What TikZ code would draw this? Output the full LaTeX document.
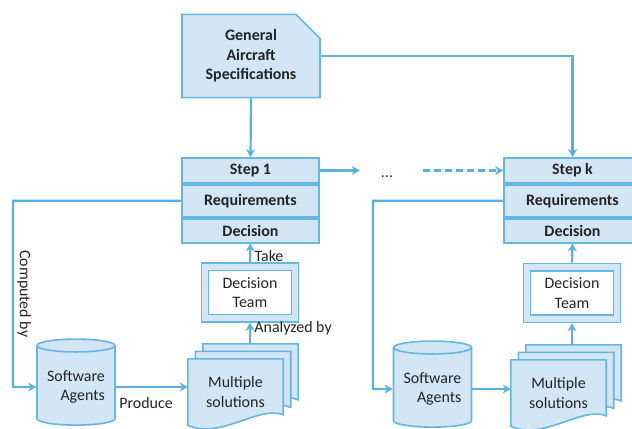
\documentclass[tikz,border=0pt]{standalone}
\usepackage{fontspec}
\setmainfont{Carlito}
\usetikzlibrary{positioning, arrows.meta, shapes.geometric, shapes.misc}
\definecolor{linec}{RGB}{86,178,228}
\definecolor{boxfill}{RGB}{210,230,245}
\definecolor{boxline}{RGB}{100,182,228}
\definecolor{txtc}{RGB}{35,35,35}

\begin{document}
\begin{tikzpicture}[
    x=1bp, y=-1bp,
    node distance=0bp,
    every node/.style={align=center, text=txtc, font=\fontsize{16}{19.5}\selectfont},
    specbox/.style={
        chamfered rectangle,
        chamfered rectangle corners=north east,
        chamfered rectangle xsep=12bp,
        chamfered rectangle ysep=12bp,
        draw=boxline,
        fill=boxfill,
        line width=1.6bp,
        minimum width=138bp,
        minimum height=82bp,
        font=\fontsize{16}{19.5}\selectfont\bfseries
    },
    stepbox/.style={
        rectangle,
        draw=boxline,
        fill=boxfill,
        line width=1.8bp,
        minimum width=137bp,
        inner sep=0pt,
        font=\fontsize{16}{19.5}\selectfont\bfseries
    },
    teamouter/.style={
        rectangle,
        draw=boxline,
        fill=boxfill,
        line width=1.6bp,
        minimum width=97bp,
        minimum height=59bp
    },
    teaminner/.style={
        rectangle,
        draw=boxline,
        fill=white,
        line width=1.6bp,
        minimum width=83bp,
        minimum height=44bp,
        inner sep=0pt
    },
    agentdb/.style={
        cylinder,
        shape border rotate=90,
        aspect=0.2,
        draw=boxline,
        fill=boxfill,
        line width=1.6bp,
        minimum width=78bp,
        minimum height=86bp,
        align=right
    },
    solbox/.style={
        rectangle,
        minimum width=95bp,
        minimum height=66bp
    },
    sheet/.style={draw=boxline, fill=boxfill, line width=1.6bp},
    arrow/.style = {draw=linec, line width=2.2bp, -{Stealth[length=8bp,width=9bp]}}
]
    \useasboundingbox (0,0) rectangle (632,428);
    \clip (0,0) rectangle (632,428);
    % 节点
    \node[specbox] (spec) at (251,56) {General\\Aircraft\\Specifications};

    \node[stepbox, minimum height=25bp] (step1) at (250.5,170.5) {Step 1};
    \node[stepbox, minimum height=32bp, below=of step1] (req1) {Requirements};
    \node[stepbox, minimum height=24bp, below=of req1] (dec1) {Decision};

    \node[stepbox, minimum height=25bp] (stepk) at (572.5,170.5) {Step k};
    \node[stepbox, minimum height=32bp, below=of stepk] (reqk) {Requirements};
    \node[stepbox, minimum height=24bp, below=of reqk] (deck) {Decision};

    \node[anchor=base, inner sep=0pt] (dots) at (387,177) {...};

    \node[teamouter] (team1) at (250,292.5) {};
    \node[teaminner] (team1in) at (team1) {Decision\\Team};
    \node[teamouter] (teamk) at (572,293) {};
    \node[teaminner] (teamkin) at (teamk) {Decision\\Team};

    \node[agentdb] (agents1) at (76,387) {Software\\Agents};
    \node[agentdb] (agentsk) at (432.5,389) {Software\\Agents};

    \node[solbox] (sol1) at (235.5,392) {};
    \node[solbox] (solk) at (558.5,393) {};
    \foreach \s/\d in {sol1/15, sol1/7.5, sol1/0, solk/15, solk/7.5, solk/0}
        \filldraw[sheet] ([shift={(\d,-\d)}]\s.north west) -- ([shift={(\d,-\d)}]\s.north east)
            -- ++(0,56) .. controls +(-24,-10) and +(32,15) .. ([shift={(\d,-\d)}]\s.south west) -- cycle;
    \node (sol1txt) at (sol1) {Multiple\\solutions};
    \node (solktxt) at (solk) {Multiple\\solutions};

    \coordinate (top1) at ([yshift=15bp]sol1.north);
    \coordinate (topk) at ([yshift=15bp]solk.north);
    \coordinate (bend1) at (13,387);
    \coordinate (bendk) at (373,389);

    % 连线
    \draw[arrow] (spec.south) -- (step1.north);
    \draw[arrow] (spec.east) -| (stepk.north);
    \draw[arrow, shorten >=21bp] (step1.east) -- (step1.east -| dots.west);
    \draw[arrow, dash pattern=on 7bp off 4bp, shorten <=30bp] (stepk.west -| dots.east) -- (stepk.west);

    \draw[arrow] (req1.west) -| (bend1) node[pos=0.75, rotate=-90, anchor=south] (lblcomp) {Computed by} -- (agents1.west);
    \draw[arrow] (agents1.east) -- (agents1.east -| sol1.west) node[pos=0.42, below=6bp] (lblprod) {Produce};
    \draw[arrow] (team1.south |- top1) -- (team1.south) node[pos=0.75, right] (lblana) {Analyzed by};
    \draw[arrow] (team1.north) -- (dec1.south) node[pos=0.35, right] (lbltake) {Take};

    \draw[arrow] (reqk.west) -| (bendk) -- (agentsk.west);
    \draw[arrow] (agentsk.east) -- (agentsk.east -| solk.west);
    \draw[arrow] (teamk.south |- topk) -- (teamk.south);
    \draw[arrow] (teamk.north) -- (deck.south);
\end{tikzpicture}
\end{document}
